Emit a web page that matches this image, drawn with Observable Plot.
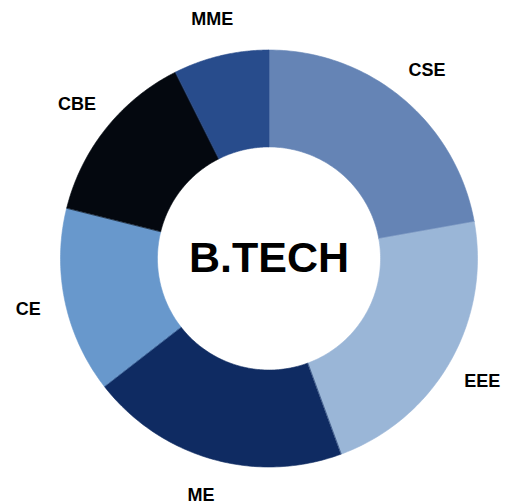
<!DOCTYPE html>
<html><head><meta charset="utf-8">
<script src="https://cdn.jsdelivr.net/npm/d3@7"></script>
<script src="https://cdn.jsdelivr.net/npm/@observablehq/plot@0.6"></script>
<style>body{margin:0;background:#fff}</style>
</head><body><div id="chart"></div>
<script>
const categories = ["CSE", "EEE", "ME", "CE", "CBE", "MME"];
const shares = [22.2, 22.2, 20.1, 14.4, 13.7, 7.4];
const colors = ["#6584b5", "#9ab6d7", "#0f2b62", "#6898cc", "#04080f", "#284c8c"];
const centerLabel = "B.TECH";

const innerRatio = 0.535, labelRatio = 1.18;
const arcs = d3.pie().sort(null)(shares);
const pts = [];
const labels = [];
arcs.forEach((s, i) => {
  const n = 80;
  for (let k = 0; k <= n; k++) {
    const a = s.startAngle + (s.endAngle - s.startAngle) * k / n;
    pts.push({name: categories[i], x: Math.sin(a), y: Math.cos(a)});
  }
  for (let k = n; k >= 0; k--) {
    const a = s.startAngle + (s.endAngle - s.startAngle) * k / n;
    pts.push({name: categories[i], x: innerRatio * Math.sin(a), y: innerRatio * Math.cos(a)});
  }
  const m = (s.startAngle + s.endAngle) / 2;
  labels.push({name: categories[i], x: labelRatio * Math.sin(m), y: labelRatio * Math.cos(m)});
});

const W = 506, H = 504, cx = 268.5, cy = 258, R = 208.5;
const chart = Plot.plot({
  width: W, height: H,
  margin: 0,
  x: {domain: [-cx / R, (W - cx) / R], range: [0, W], axis: null},
  y: {domain: [-(H - cy) / R, cy / R], range: [H, 0], axis: null},
  color: {domain: categories, range: colors},
  style: {background: "#fff"},
  marks: [
    Plot.line(pts, {x: "x", y: "y", z: "name", fill: "name", stroke: "name", strokeWidth: 0.6, curve: "linear-closed"}),
    Plot.text(labels, {x: "x", y: "y", text: "name", fontSize: 18, fontWeight: "bold", fontFamily: "Liberation Sans, Arial, sans-serif", fill: "#000"}),
    Plot.text([centerLabel], {x: () => 0, y: () => 0, text: d => d, fontSize: 43, fontWeight: "bold", fontFamily: "Liberation Sans, Arial, sans-serif", fill: "#000"})
  ]
});
document.getElementById("chart").appendChild(chart);
</script>
</body></html>
